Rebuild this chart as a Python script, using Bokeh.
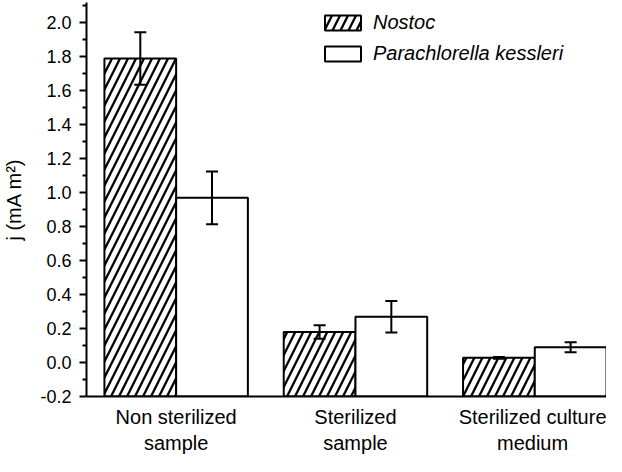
from bokeh.plotting import figure
from bokeh.models import (ColumnDataSource, Range1d, FixedTicker, Whisker, TeeHead,
                          Legend, LegendItem, NumeralTickFormatter)
from bokeh.embed import file_html
from bokeh.resources import INLINE

# ---- data ----
categories = ["Non sterilized\nsample", "Sterilized\nsample", "Sterilized culture\nmedium"]
series_names = ["Nostoc", "Parachlorella kessleri"]
nostoc = [1.79, 0.18, 0.028]
nostoc_err = [0.155, 0.04, 0.005]
parachlorella = [0.97, 0.27, 0.09]
parachlorella_err = [0.155, 0.093, 0.03]
y_ticks = [-0.2, 0.0, 0.2, 0.4, 0.6, 0.8, 1.0, 1.2, 1.4, 1.6, 1.8, 2.0]
y_minor_ticks = [-0.1, 0.1, 0.3, 0.5, 0.7, 0.9, 1.1, 1.3, 1.5, 1.7, 1.9, 2.1]

FONT = "Liberation Sans"
BASE = -0.2
pos = [i + 1 for i in range(len(categories))]
offset = 0.2
bar_w = 0.4

src_n = ColumnDataSource(dict(
    x=[c - offset for c in pos], top=nostoc,
    upper=[v + e for v, e in zip(nostoc, nostoc_err)],
    lower=[v - e for v, e in zip(nostoc, nostoc_err)]))
src_p = ColumnDataSource(dict(
    x=[c + offset for c in pos], top=parachlorella,
    upper=[v + e for v, e in zip(parachlorella, parachlorella_err)],
    lower=[v - e for v, e in zip(parachlorella, parachlorella_err)]))

p = figure(width=606, height=456, output_backend="svg", toolbar_location=None,
           x_range=Range1d(0.5, 3.4), y_range=Range1d(-0.2, 2.12),
           min_border_left=83, min_border_right=0, min_border_top=2, min_border_bottom=56)
p.xgrid.visible = False
p.ygrid.visible = False
p.outline_line_color = None
p.background_fill_color = "white"
p.border_fill_color = "white"

r1 = p.vbar(x="x", top="top", bottom=BASE, width=bar_w, source=src_n,
            fill_color="white", line_color="black", line_width=2,
            hatch_pattern="/", hatch_color="black", hatch_weight=2.3, hatch_scale=16)
r2 = p.vbar(x="x", top="top", bottom=BASE, width=bar_w, source=src_p,
            fill_color="white", line_color="black", line_width=2)

for src in (src_n, src_p):
    w = Whisker(base="x", upper="upper", lower="lower", source=src,
                line_color="black", line_width=2, level="annotation",
                upper_head=TeeHead(size=12, line_width=2, line_color="black"),
                lower_head=TeeHead(size=12, line_width=2, line_color="black"))
    p.add_layout(w)

# x axis
xa = p.xaxis[0]
xa.ticker = FixedTicker(ticks=pos)
xa.major_label_overrides = {c: lab for c, lab in zip(pos, categories)}
xa.major_tick_out = 0
xa.major_tick_in = 0
xa.minor_tick_line_color = None
xa.axis_line_width = 2
xa.major_label_text_font = FONT
xa.major_label_text_font_size = "20px"
xa.major_label_text_color = "black"
xa.major_label_standoff = 9

# y axis
ya = p.yaxis[0]
ya.ticker = FixedTicker(ticks=y_ticks, minor_ticks=y_minor_ticks)
ya.formatter = NumeralTickFormatter(format="0.0")
ya.axis_line_width = 2
ya.major_tick_line_width = 2
ya.minor_tick_line_width = 2
ya.major_tick_out = 7
ya.major_tick_in = 0
ya.minor_tick_out = 4
ya.minor_tick_in = 0
ya.major_label_text_font = FONT
ya.major_label_text_font_size = "18px"
ya.major_label_text_color = "black"
ya.major_label_standoff = 8
ya.axis_label = "j (mA m\u00b2)"
ya.axis_label_text_font = FONT
ya.axis_label_text_font_size = "20px"
ya.axis_label_text_font_style = "normal"
ya.axis_label_text_color = "black"
ya.axis_label_standoff = 12

legend = Legend(items=[LegendItem(label=series_names[0], renderers=[r1]),
                       LegendItem(label=series_names[1], renderers=[r2])],
                location=(234, 331), padding=0, margin=0, spacing=8,
                glyph_width=45, glyph_height=19, label_height=19, label_standoff=8,
                label_text_font=FONT, label_text_font_size="20px",
                label_text_font_style="italic", label_text_color="black",
                border_line_color=None, background_fill_alpha=0)
p.add_layout(legend)

open("out.html", "w").write(file_html(p, INLINE))
